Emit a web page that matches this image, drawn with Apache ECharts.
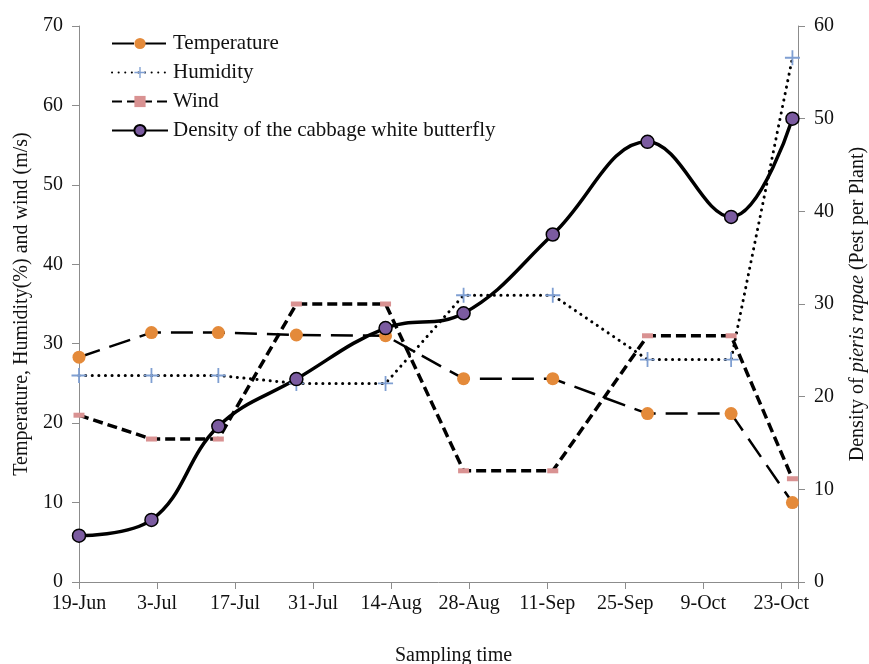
<!DOCTYPE html>
<html>
<head>
<meta charset="utf-8">
<script src="https://cdn.jsdelivr.net/npm/echarts@6/dist/echarts.min.js"></script>
<style>
  html, body { margin: 0; padding: 0; background: #fff; }
  #chart { width: 869px; height: 664px; }
</style>
</head>
<body>
<div id="chart"></div>
<script>
// sampling dates (day-month) and series
var sampleDates = ['19-Jun', '2-Jul', '14-Jul', '28-Jul', '13-Aug', '27-Aug', '12-Sep', '29-Sep', '14-Oct', '25-Oct'];
var temperature = [28.3, 31.4, 31.4, 31.1, 31.0, 25.6, 25.6, 21.2, 21.2, 10.0];
var humidity = [26.0, 26.0, 26.0, 25.0, 25.0, 36.1, 36.1, 28.0, 28.0, 66.0];
var wind = [21.0, 18.0, 18.0, 35.0, 35.0, 14.0, 14.0, 31.0, 31.0, 13.0];
var density = [5.0, 6.7, 16.8, 21.9, 27.4, 29.0, 37.5, 47.5, 39.4, 50.0];

var months = ['Jan', 'Feb', 'Mar', 'Apr', 'May', 'Jun', 'Jul', 'Aug', 'Sep', 'Oct', 'Nov', 'Dec'];
var startDate = new Date(2019, 5, 19);

// days since 19-Jun
function dayOffset(s) {
    var p = s.split('-');
    var d = new Date(2019, months.indexOf(p[1]), +p[0]);
    return Math.round((d - startDate) / 86400000);
}
function pairs(vals) {
    return vals.map(function (v, i) { return [dayOffset(sampleDates[i]), v]; });
}

var font = 'Liberation Serif, Times New Roman, serif';
var plus = 'path://M4.4,0h1.2v4.4h4.4v1.2h-4.4v4.4h-1.2v-4.4h-4.4v-1.2h4.4z';

var myChart = echarts.init(document.getElementById('chart'));

myChart.setOption({
    animation: false,
    textStyle: { fontFamily: font },
    grid: { left: 79, right: 71, top: 26, bottom: 82, outerBoundsMode: 'none' },
    legend: {
        orient: 'vertical',
        left: 106,
        top: 28,
        itemWidth: 56,
        itemHeight: 14,
        itemGap: 8,
        textStyle: { fontFamily: font, fontSize: 21, color: '#111' },
        data: ['Temperature', 'Humidity', 'Wind', 'Density of the cabbage white butterfly']
    },
    xAxis: {
        type: 'value',
        min: 0,
        max: 129,
        interval: 14,
        name: 'Sampling time',
        nameLocation: 'middle',
        nameGap: 64,
        nameTextStyle: { fontFamily: font, fontSize: 20, color: '#111', padding: [0, 0, 0, 30] },
        splitLine: { show: false },
        axisLine: { lineStyle: { color: '#8c8c8c' } },
        axisTick: { length: 7, lineStyle: { color: '#8c8c8c' } },
        axisLabel: {
            margin: 12,
            fontSize: 20,
            color: '#111',
            fontFamily: font,
            formatter: function (v) {
                if (v % 14 !== 0) return '';
                var d = new Date(2019, 5, 19 + v);
                return d.getDate() + '-' + months[d.getMonth()];
            }
        }
    },
    yAxis: [
        {
            type: 'value',
            min: 0,
            max: 70,
            interval: 10,
            name: 'Temperature, Humidity(%) and wind (m/s)',
            nameLocation: 'middle',
            nameGap: 47,
            nameTextStyle: { fontFamily: font, fontSize: 20, color: '#111' },
            splitLine: { show: false },
            axisLine: { show: true, lineStyle: { color: '#8c8c8c' } },
            axisTick: { show: true, length: 7, lineStyle: { color: '#8c8c8c' } },
            axisLabel: { margin: 16, fontSize: 20, color: '#111', fontFamily: font }
        },
        {
            type: 'value',
            min: 0,
            max: 60,
            interval: 10,
            position: 'right',
            name: '{n|Density of }{i|pieris rapae}{n| (Pest per Plant)}',
            nameLocation: 'middle',
            nameGap: 50,
            nameTextStyle: {
                rich: {
                    n: { fontFamily: font, fontSize: 20, color: '#111' },
                    i: { fontFamily: font, fontSize: 20, color: '#111', fontStyle: 'italic' }
                }
            },
            splitLine: { show: false },
            axisLine: { show: true, lineStyle: { color: '#8c8c8c' } },
            axisTick: { show: true, length: 7, lineStyle: { color: '#8c8c8c' } },
            axisLabel: { margin: 16, fontSize: 20, color: '#111', fontFamily: font }
        }
    ],
    series: [
        {
            name: 'Temperature',
            type: 'line',
            yAxisIndex: 0,
            data: pairs(temperature),
            symbol: 'circle',
            symbolSize: 13,
            itemStyle: { color: '#e48a3a' },
            lineStyle: { color: '#000', width: 2.5, type: [22, 10] }
        },
        {
            name: 'Humidity',
            type: 'line',
            yAxisIndex: 0,
            data: pairs(humidity),
            symbol: plus,
            symbolSize: 15,
            itemStyle: { color: '#7f9fd2' },
            lineStyle: { color: '#000', width: 3, type: [0.1, 6.5], cap: 'round' }
        },
        {
            name: 'Wind',
            type: 'line',
            yAxisIndex: 0,
            data: pairs(wind),
            symbol: 'rect',
            symbolSize: [11, 5],
            itemStyle: { color: '#d99292' },
            lineStyle: { color: '#000', width: 3.5, type: [10, 5] }
        },
        {
            name: 'Density of the cabbage white butterfly',
            type: 'line',
            yAxisIndex: 1,
            data: pairs(density),
            smooth: 0.4,
            symbol: 'circle',
            symbolSize: 13,
            itemStyle: { color: '#7b5ba0', borderColor: '#000', borderWidth: 1.5 },
            lineStyle: { color: '#000', width: 3.5 },
            z: 3
        }
    ]
});
</script>
</body>
</html>
